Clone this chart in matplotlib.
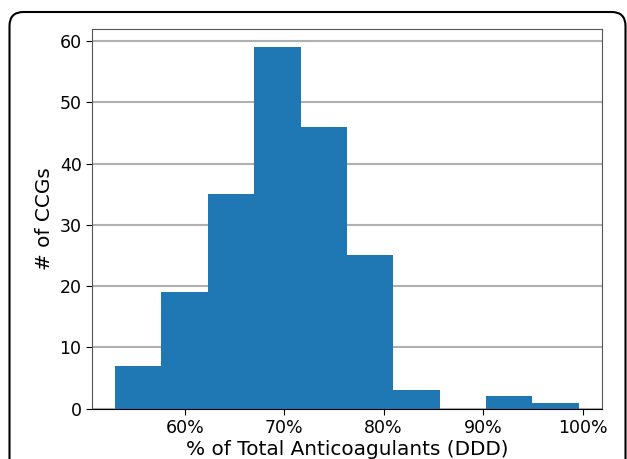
import matplotlib
matplotlib.use('Agg')
import matplotlib.pyplot as plt
from matplotlib.patches import FancyBboxPatch
from matplotlib.transforms import IdentityTransform
from matplotlib.ticker import PercentFormatter

# histogram bins (% of total anticoagulants, DDD) and CCG counts
bin_edges = [53.0, 57.66, 62.32, 66.98, 71.64, 76.3, 80.96, 85.62, 90.28, 94.94, 99.6]
counts = [7, 19, 35, 59, 46, 25, 3, 0, 2, 1]
xticks = [60, 70, 80, 90, 100]
yticks = [0, 10, 20, 30, 40, 50, 60]

fig = plt.figure(figsize=(6.27, 4.59), dpi=100)
ax = fig.add_axes([0.1467, 0.1096, 0.8130, 0.8272])

ax.hist(bin_edges[:-1], bins=bin_edges, weights=counts, color='#1f77b4')

ax.set_axisbelow(True)
ax.yaxis.grid(True, color='#b0b0b0', lw=1.5)
ax.set_xticks(xticks)
ax.set_yticks(yticks)
ax.xaxis.set_major_formatter(PercentFormatter(100, decimals=0))
ax.tick_params(labelsize=12.5, length=4)

for s in ['left', 'top', 'right']:
    ax.spines[s].set_color('#555555')
ax.spines['bottom'].set_color('black')

ax.set_xlabel('% of Total Anticoagulants (DDD)', fontsize=14.4, labelpad=2)
ax.set_ylabel('# of CCGs', fontsize=14.4)

# rounded frame around the figure (cut off at the bottom)
frame = FancyBboxPatch((9.5, -40), 616, 487, boxstyle='round,pad=0,rounding_size=14',
                       transform=IdentityTransform(), fill=False, ec='black', lw=1.5)
fig.patches.append(frame)

plt.savefig('out.png', dpi=100)
